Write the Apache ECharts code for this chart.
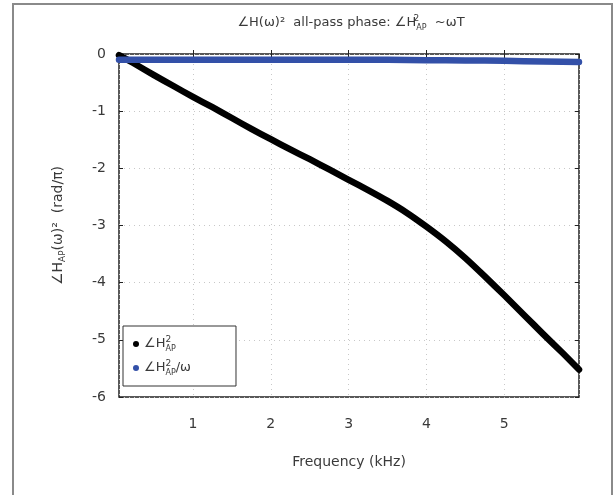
<!DOCTYPE html>
<html>
<head>
<meta charset="utf-8">
<script src="https://cdn.jsdelivr.net/npm/echarts@6/dist/echarts.min.js"></script>
<style>
  html, body { margin: 0; padding: 0; background: #fff; }
  #chart { width: 616px; height: 495px; }
</style>
</head>
<body>
<div id="chart"></div>
<script>
// Frequency samples (kHz)
const freq = [0.05, 0.25, 0.5, 0.75, 1.0, 1.25, 1.5, 1.75, 2.0, 2.25, 2.5, 2.75, 3.0,
              3.25, 3.5, 3.75, 4.0, 4.25, 4.5, 4.75, 5.0, 5.25, 5.5, 5.75, 5.96];
// All-pass squared phase (rad/π)
const phaseAP = [-0.02, -0.17, -0.37, -0.56, -0.75, -0.93, -1.12, -1.31, -1.49, -1.67, -1.84, -2.02, -2.2,
                 -2.38, -2.57, -2.78, -3.02, -3.28, -3.57, -3.89, -4.22, -4.56, -4.9, -5.23, -5.52];
// Phase divided by ω (normalised)
const phaseOverW = [-0.1, -0.1, -0.1, -0.1, -0.1, -0.1, -0.1, -0.1, -0.1, -0.1, -0.1, -0.1, -0.1,
                    -0.1, -0.1, -0.105, -0.11, -0.11, -0.115, -0.115, -0.12, -0.125, -0.13, -0.135, -0.14];
const yTicks = [-6, -5, -4, -3, -2, -1, 0];

const FONT = 'DejaVu Sans';
const TXT = '#3a3a3a';

const pairs = (xs, ys) => xs.map((x, i) => [x, ys[i]]);

const baseRich = {
  t:   { fontFamily: FONT, fontSize: 13, fontWeight: 'normal', color: TXT, lineHeight: 18, verticalAlign: 'middle' },
  sup: { fontFamily: FONT, fontSize: 9, fontWeight: 'normal', color: TXT, lineHeight: 18, verticalAlign: 'top', width: 0, align: 'left' },
  sub: { fontFamily: FONT, fontSize: 8, fontWeight: 'normal', color: TXT, lineHeight: 16, verticalAlign: 'bottom' }
};

const yNameRich = {
  t:   { fontFamily: FONT, fontSize: 14, fontWeight: 'normal', color: TXT, lineHeight: 18, verticalAlign: 'middle' },
  sub: { fontFamily: FONT, fontSize: 9, fontWeight: 'normal', color: TXT, lineHeight: 16, verticalAlign: 'bottom' }
};

const chart = echarts.init(document.getElementById('chart'), null, { renderer: 'canvas' });

chart.setOption({
  backgroundColor: '#fff',
  animation: false,
  title: {
    text: '{t|∠H(ω)²  all-pass phase: ∠H}{sup|2}{sub|AP}{t|  ~ωT}',
    left: 346,
    top: 9,
    textAlign: 'center',
    textStyle: { fontWeight: 'normal', rich: baseRich }
  },
  graphic: [{
    type: 'rect',
    shape: { x: 13, y: 4, width: 599, height: 500 },
    style: { fill: 'none', stroke: '#8a8a8a', lineWidth: 2 },
    silent: true,
    z: -10
  }],
  grid: {
    left: 119, top: 54, right: 37, bottom: 98,
    show: true, borderColor: '#222', borderWidth: 1.5
  },
  legend: {
    orient: 'vertical',
    left: 123, top: 326,
    padding: [9, 45, 9, 10],
    itemGap: 6,
    itemWidth: 6, itemHeight: 6,
    icon: 'circle',
    borderColor: '#333', borderWidth: 1,
    backgroundColor: '#fff',
    data: ['∠H²AP', '∠H²AP/ω'],
    formatter: name => name === '∠H²AP'
      ? '{t|∠H}{sup|2}{sub|AP}'
      : '{t|∠H}{sup|2}{sub|AP}{t|/ω}',
    textStyle: { rich: baseRich }
  },
  xAxis: [{
    type: 'value',
    min: 0.05, max: 5.96,
    splitNumber: 5,
    name: 'Frequency (kHz)',
    nameLocation: 'middle',
    nameGap: 58,
    nameTextStyle: { fontFamily: FONT, fontSize: 14, color: TXT },
    axisLine: { show: false },
    axisTick: { inside: true, length: 4, lineStyle: { color: '#222' } },
    axisLabel: { showMinLabel: false, showMaxLabel: false, margin: 20,
                 fontFamily: FONT, fontSize: 14, color: TXT },
    splitLine: { show: true, lineStyle: { color: '#c8c8c8', type: [1, 4], width: 1 } }
  }, {
    type: 'value',
    position: 'top',
    min: 0.05, max: 5.96,
    splitNumber: 5,
    axisLine: { show: false },
    axisTick: { inside: true, length: 4, lineStyle: { color: '#222' } },
    axisLabel: { show: false },
    splitLine: { show: false }
  }],
  yAxis: [{
    type: 'value',
    min: -6, max: 0, interval: 1,
    name: '{t|∠H}{sub|AP}{t|(ω)²  (rad/π)}',
    nameLocation: 'middle',
    nameRotate: 90,
    nameGap: 52,
    nameTextStyle: { rich: yNameRich },
    axisLine: { show: false },
    axisTick: { inside: true, length: 4, lineStyle: { color: '#222' } },
    axisLabel: { margin: 13, fontFamily: FONT, fontSize: 14, color: TXT,
                 formatter: v => yTicks.includes(v) ? String(v) : '' },
    splitLine: { show: true, lineStyle: { color: '#c8c8c8', type: [1, 4], width: 1 } }
  }, {
    type: 'value',
    position: 'right',
    min: -6, max: 0, interval: 1,
    axisLine: { show: false },
    axisTick: { inside: true, length: 4, lineStyle: { color: '#222' } },
    axisLabel: { show: false },
    splitLine: { show: false }
  }],
  series: [{
    name: '∠H²AP',
    type: 'line',
    data: pairs(freq, phaseAP),
    showSymbol: false,
    symbol: 'circle',
    smooth: 0.2,
    color: '#000',
    lineStyle: { color: '#000', width: 6.5, cap: 'round', join: 'round' },
    z: 3
  }, {
    name: '∠H²AP/ω',
    type: 'line',
    data: pairs(freq, phaseOverW),
    showSymbol: false,
    symbol: 'circle',
    color: '#3350a8',
    lineStyle: { color: '#3350a8', width: 6.5, cap: 'round', join: 'round' },
    z: 4
  }]
});
</script>
</body>
</html>
